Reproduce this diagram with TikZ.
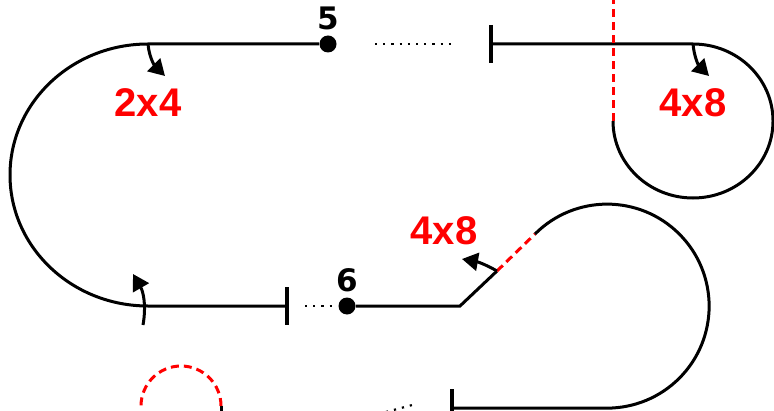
\documentclass[tikz,border=0pt]{standalone}
\usepackage{fontspec}
\usepackage{xcolor}
\usepackage{tikz}
\usetikzlibrary{arrows.meta}
\newfontfamily\lblfont{Liberation Sans}
\newfontfamily\numfont{DejaVu Sans}
\definecolor{trackred}{HTML}{FF0000}

\begin{document}
\begin{tikzpicture}[x=0.5pt,y=0.5pt,
  track/.style={line width=1.5pt,black},
  redtrack/.style={line width=1.5pt,trackred,dash pattern=on 4pt off 2.5pt},
  gap/.style={line width=1.1pt,dash pattern=on 1.1pt off 3pt},
  stopbar/.style={line width=2.2pt},
  turn/.style={-{Triangle[length=8pt,width=9pt]},line width=1.5pt},
  post/.style={circle,fill=black,minimum size=8.5pt,inner sep=0pt},
  num/.style={font=\numfont\bfseries\fontsize{15.5}{15.5}\selectfont},
  size/.style={font=\lblfont\bfseries\fontsize{20}{20}\selectfont,text=trackred}
]
  \useasboundingbox (0,0) rectangle (774,-411);
  \clip (0,0) rectangle (774,-411);
  % posts and labels
  \node[post] (p5) at (328,-44) {};
  \node[num] (l5) at (328,-18) {5};
  \node[post] (p6) at (347,-306) {};
  \node[num] (l6) at (347,-280) {6};
  \node[size] (s1) at (148,-103) {2x4};
  \node[size] (s2) at (693,-103) {4x8};
  \node[size] (s3) at (444,-231) {4x8};
  % track points
  \coordinate (a) at (148,-44);
  \coordinate (barA) at (491,-44);
  \coordinate (c) at (693,-44);
  \coordinate (d) at (613,-121);
  \coordinate (dtop) at (613,2);
  \coordinate (barB) at (287,-306);
  \coordinate (bend) at (460,-306);
  \coordinate (e) at (497,-271);
  \coordinate (f) at (535,-234);
  \coordinate (barC) at (452,-408);
  \coordinate (rc) at (221,-406);
  \coordinate (rcb) at (221,-416);
  \coordinate (g1) at (375,-44);  \coordinate (g2) at (451,-44);
  \coordinate (g3) at (305,-306); \coordinate (g4) at (332,-306);
  \coordinate (g5) at (386,-412); \coordinate (g6) at (416,-404);
  \coordinate (t1) at (165,-76);
  \coordinate (t2) at (709,-76);
  \coordinate (t3s) at (143,-325); \coordinate (t3) at (133,-274);
  \coordinate (t4) at (462,-259);
  % left loop
  \draw[track] (p5) -- (a) arc[start angle=90,end angle=270,x radius=138,y radius=131] -- (barB);
  \draw[stopbar] (barB) ++(0,19) -- ++(0,-38);
  % right loop
  \draw[stopbar] (barA) ++(0,19) -- ++(0,-38);
  \draw[track] (barA) -- (c) arc[start angle=90,end angle=-180,x radius=80,y radius=77];
  \draw[redtrack] (d) -- (dtop);
  % lower loop
  \draw[track] (p6) -- (bend) -- (e);
  \draw[redtrack] (e) -- (f);
  \draw[track] (f) arc[start angle=135,end angle=-90,radius=102] -- (barC);
  \draw[stopbar] (barC) ++(0,19) -- ++(0,-38);
  \draw[track] (rcb) -- (rc);
  \draw[redtrack] (rc) arc[start angle=0,end angle=180,radius=40];
  % gaps
  \draw[gap] (g1) -- (g2);
  \draw[gap] (g3) -- (g4);
  \draw[gap] (g5) -- (g6);
  % turn arrows
  \draw[turn] (a) to[out=-85,in=135] (t1);
  \draw[turn] (c) to[out=-85,in=135] (t2);
  \draw[turn] (t3s) to[out=80,in=-60] (t3);
  \draw[turn] (e) to[out=150,in=-10] (t4);
\end{tikzpicture}
\end{document}
